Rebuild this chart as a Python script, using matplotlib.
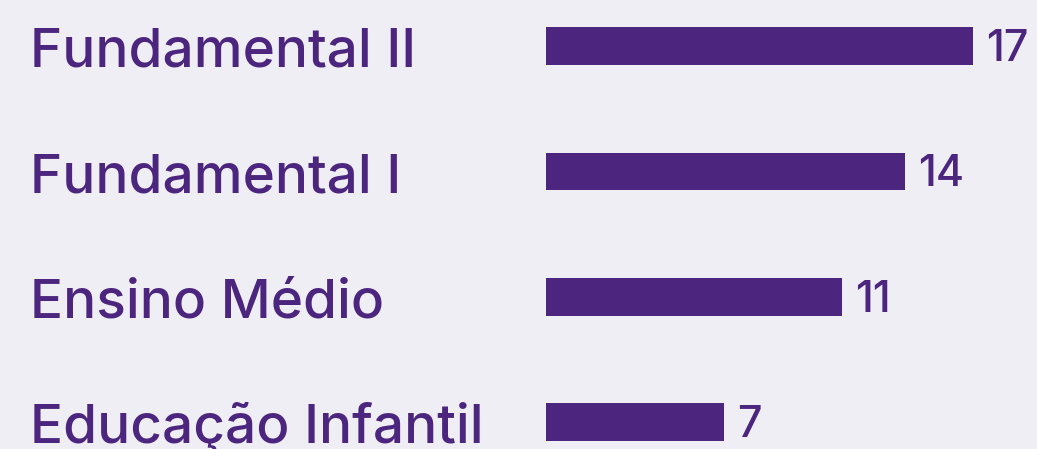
import matplotlib
matplotlib.use("Agg")
import matplotlib.pyplot as plt
from matplotlib.transforms import blended_transform_factory

categories = ["Fundamental II", "Fundamental I", "Ensino Médio", "Educação Infantil"]
values = [17.0, 14.3, 11.8, 7.1]
value_labels = [str(int(v)) for v in values]

BG = "#efeef5"
PURPLE = "#4c267e"

plt.rcParams["font.family"] = ["Inter", "DejaVu Sans"]

W, H, DPI = 1037, 449, 100
fig = plt.figure(figsize=(W / DPI, H / DPI), dpi=DPI, facecolor=BG)

px_per_unit = 25.1
left_px = 546
xmax = 19.5
ax = fig.add_axes([left_px / W, 0, xmax * px_per_unit / W, 1])
ax.set_facecolor(BG)

y = list(range(len(categories)))
ax.barh(y, values, height=0.3, color=PURPLE, linewidth=0)
ax.set_xlim(0, xmax)
ax.set_ylim(3.215, -0.367)
ax.axis("off")

trans = blended_transform_factory(fig.transFigure, ax.transData)
for i, cat in enumerate(categories):
    ax.text(30.5 / W, i + 0.165, cat, transform=trans, ha="left", va="baseline",
            fontsize=39.5, fontweight="medium", color=PURPLE, clip_on=False)

for i, (v, lab) in enumerate(zip(values, value_labels)):
    ax.annotate(lab, xy=(v, i + 0.12), xytext=(9.5, 0), textcoords="offset points",
                ha="left", va="baseline", fontsize=31, fontweight="medium",
                color=PURPLE, annotation_clip=False)

fig.savefig("out.png", dpi=DPI, facecolor=BG)
